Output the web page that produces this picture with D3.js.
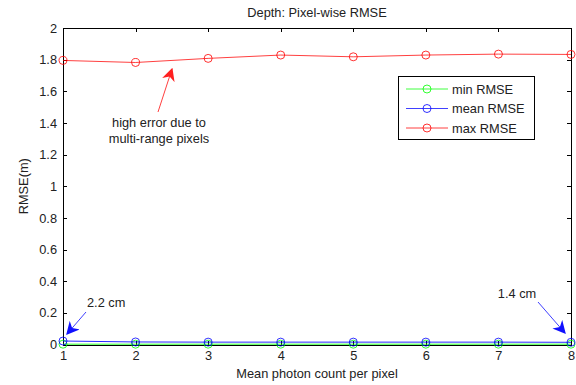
<!DOCTYPE html>
<html><head><meta charset="utf-8">
<script src="https://cdn.jsdelivr.net/npm/d3@7"></script>
<style>body{margin:0;background:#fff}svg{display:block;font-family:Arial,"Liberation Sans",sans-serif}</style>
</head><body><svg id="c" width="576" height="385"></svg>
<script>
const photonCounts = [1,2,3,4,5,6,7,8];
const minRMSE  = [0.002,0.002,0.002,0.002,0.002,0.002,0.002,0.002];
const meanRMSE = [0.022,0.016,0.015,0.015,0.015,0.015,0.015,0.014];
const maxRMSE  = [1.795,1.782,1.808,1.829,1.818,1.829,1.835,1.833];
const xTicks = [1,2,3,4,5,6,7,8];
const yTicks = [0,0.2,0.4,0.6,0.8,1,1.2,1.4,1.6,1.8,2];
const seriesNames = ["min RMSE","mean RMSE","max RMSE"];
const seriesColors = ["#00ff00","#0000ff","#ff0000"];

const svg = d3.select("#c");
const L=63, R=571, T=28, B=344.5;
const FS = 12.8;
const x = d3.scaleLinear().domain([1,8]).range([L,R]);
const y = d3.scaleLinear().domain([0,2]).range([B,T]);

svg.append("rect").attr("x",0).attr("y",0).attr("width",576).attr("height",385).attr("fill","#fff");

const fmt = d => d===0?"0":(d===1?"1":(d===2?"2":d3.format(".1f")(d)));
const gx = svg.append("g").attr("transform",`translate(0,${B})`)
  .call(d3.axisBottom(x).tickValues(xTicks).tickSizeInner(-4).tickSizeOuter(0).tickPadding(6).tickFormat(d3.format("d")));
const gxt = svg.append("g").attr("transform",`translate(0,${T})`)
  .call(d3.axisTop(x).tickValues(xTicks).tickSizeInner(-4).tickSizeOuter(0).tickFormat(""));
const gy = svg.append("g").attr("transform",`translate(${L},0)`)
  .call(d3.axisLeft(y).tickValues(yTicks).tickSizeInner(-4).tickSizeOuter(0).tickPadding(6).tickFormat(fmt));
const gyr = svg.append("g").attr("transform",`translate(${R},0)`)
  .call(d3.axisRight(y).tickValues(yTicks).tickSizeInner(-4).tickSizeOuter(0).tickFormat(""));
[gx,gxt,gy,gyr].forEach(g=>{
  g.selectAll("path,line").attr("stroke","#000").attr("stroke-width",1).attr("shape-rendering","crispEdges");
  g.selectAll("text").attr("font-size",FS).attr("fill","#222").attr("font-family","Arial, 'Liberation Sans', sans-serif");
});

const allSeries = [minRMSE, meanRMSE, maxRMSE];
const line = d3.line().x((d,i)=>x(photonCounts[i])).y(d=>y(d));
allSeries.forEach((s,k)=>{
  svg.append("path").datum(s).attr("d",line).attr("fill","none")
    .attr("stroke",seriesColors[k]).attr("stroke-width",1).attr("stroke-opacity",k===2?0.75:0.85);
  svg.append("g").selectAll("circle").data(s).join("circle")
    .attr("cx",(d,i)=>x(photonCounts[i])).attr("cy",d=>y(d)).attr("r",4)
    .attr("fill","none").attr("stroke",seriesColors[k]).attr("stroke-width",1).attr("stroke-opacity",0.8);
});

svg.append("text").attr("x",(L+R)/2).attr("y",17).attr("text-anchor","middle").attr("font-size",FS).attr("fill","#222").text("Depth: Pixel-wise RMSE");
svg.append("text").attr("x",(L+R)/2).attr("y",378).attr("text-anchor","middle").attr("font-size",FS).attr("fill","#222").text("Mean photon count per pixel");
svg.append("text").attr("transform",`translate(28,${(T+B)/2}) rotate(-90)`).attr("text-anchor","middle").attr("font-size",FS).attr("fill","#222").text("RMSE(m)");

const lg = svg.append("g");
lg.append("rect").attr("x",398.5).attr("y",76.5).attr("width",136).attr("height",63).attr("fill","#fff").attr("stroke","#000").attr("stroke-width",1);
seriesNames.forEach((n,k)=>{
  const yy = 89 + k*19.5;
  lg.append("line").attr("x1",406).attr("x2",448).attr("y1",yy).attr("y2",yy).attr("stroke",seriesColors[k]).attr("stroke-opacity",0.75);
  lg.append("circle").attr("cx",427).attr("cy",yy).attr("r",4).attr("fill","none").attr("stroke",seriesColors[k]).attr("stroke-opacity",0.8);
  lg.append("text").attr("x",452).attr("y",yy+4.5).attr("font-size",FS).attr("fill","#222").text(n);
});

const defs = svg.append("defs");
function marker(id,color){
  defs.append("marker").attr("id",id).attr("viewBox","0 0 10 10").attr("refX",9).attr("refY",5)
    .attr("markerWidth",13).attr("markerHeight",13).attr("markerUnits","userSpaceOnUse").attr("orient","auto")
    .append("path").attr("d","M0,0 L10,5 L0,10 L3,5 Z").attr("fill",color);
}
marker("ar","#ff2020"); marker("ab","#1010ff");
svg.append("line").attr("x1",158).attr("y1",112).attr("x2",172).attr("y2",69).attr("stroke","#ff4040").attr("stroke-width",1).attr("marker-end","url(#ar)");
svg.append("text").attr("x",159).attr("y",127).attr("text-anchor","middle").attr("font-size",FS).attr("fill","#222").text("high error due to");
svg.append("text").attr("x",159).attr("y",143).attr("text-anchor","middle").attr("font-size",FS).attr("fill","#222").text("multi-range pixels");
svg.append("line").attr("x1",86).attr("y1",312).attr("x2",67).attr("y2",334).attr("stroke","#4040ff").attr("stroke-width",1).attr("marker-end","url(#ab)");
svg.append("text").attr("x",87).attr("y",307).attr("font-size",FS).attr("fill","#222").text("2.2 cm");
svg.append("line").attr("x1",538).attr("y1",302).attr("x2",565).attr("y2",333).attr("stroke","#4040ff").attr("stroke-width",1).attr("marker-end","url(#ab)");
svg.append("text").attr("x",517).attr("y",298).attr("text-anchor","middle").attr("font-size",FS).attr("fill","#222").text("1.4 cm");
</script></body></html>
